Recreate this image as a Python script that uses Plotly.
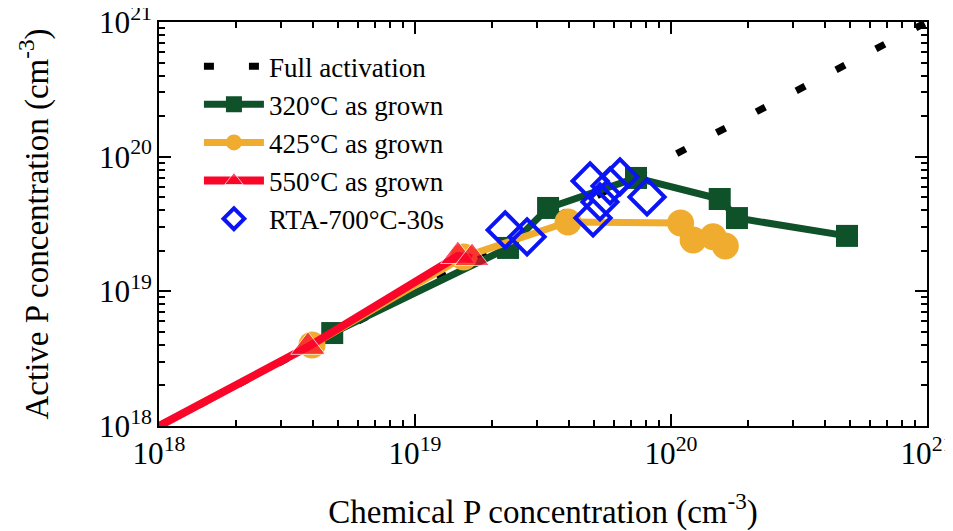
import plotly.graph_objects as go

# ---- data ----
full_x = [1e18, 1e21]
full_y = [1e18, 1e21]

g320_x = [4.75e18, 2.31e19, 3.31e19, 7.3e19, 1.55e20, 1.81e20, 4.87e20]
g320_y = [4.9e18, 2.1e19, 4.16e19, 6.95e19, 4.85e19, 3.5e19, 2.58e19]

g425_x = [3.96e18, 1.55e19, 3.96e19, 1.09e20, 1.22e20, 1.46e20, 1.63e20]
g425_y = [4.0e18, 1.8e19, 3.27e19, 3.22e19, 2.41e19, 2.54e19, 2.17e19]

g550_x = [1.0e18, 3.82e18, 1.47e19, 1.67e19]
g550_y = [1.0e18, 3.87e18, 1.83e19, 1.77e19]

rta_x = [2.25e19, 2.74e19, 4.83e19, 5.78e19, 6.32e19, 5.28e19, 4.96e19, 8.06e19]
rta_y = [2.86e19, 2.54e19, 6.6e19, 6.06e19, 7.07e19, 4.61e19, 3.51e19, 5.02e19]

GREEN = "#0f5129"
ORANGE = "#f0ac2e"
RED = "#fa0629"
BLUE = "#0a14f5"
FONT = "Liberation Serif"

fig = go.Figure()
fig.add_trace(go.Scatter(x=full_x, y=full_y, mode="lines", name="Full activation",
                         line=dict(color="black", width=7, dash="10px,35px")))
fig.add_trace(go.Scatter(x=g320_x, y=g320_y, mode="lines+markers", name="320°C as grown",
                         line=dict(color=GREEN, width=7),
                         marker=dict(symbol="square", size=22, color=GREEN)))
fig.add_trace(go.Scatter(x=g425_x, y=g425_y, mode="lines+markers", name="425°C as grown",
                         line=dict(color=ORANGE, width=7),
                         marker=dict(symbol="circle", size=27, color=ORANGE)))
fig.add_trace(go.Scatter(x=g550_x, y=g550_y, mode="lines+markers", name="550°C as grown",
                         line=dict(color=RED, width=8),
                         marker=dict(symbol="triangle-up", size=[0, 30, 30, 30], color=RED)))
fig.add_trace(go.Scatter(x=rta_x, y=rta_y, mode="markers", name="RTA-700°C-30s",
                         marker=dict(symbol="diamond-open", size=27, color=BLUE,
                                     line=dict(color=BLUE, width=4))))

axis_common = dict(
    type="log", dtick=1, exponentformat="power", showexponent="all",
    showline=True, linecolor="black", linewidth=2, mirror="allticks",
    ticks="inside", ticklen=12, tickwidth=2, tickcolor="black",
    showgrid=False, zeroline=False, automargin=False, ticklabeloverflow="allow",
    tickfont=dict(family=FONT, size=25, color="black"),
    minor=dict(ticks="inside", ticklen=6, tickwidth=2, tickcolor="black", dtick="D1", showgrid=False),
)

fig.update_layout(
    width=945, height=523,
    margin=dict(l=151, r=26, t=14, b=105),
    paper_bgcolor="white", plot_bgcolor="white",
    font=dict(family=FONT, color="black"),
    xaxis=dict(range=[17.99999, 21.00001], **axis_common,
               title=dict(text="Chemical P concentration (cm<sup>-3</sup>)",
                          font=dict(family=FONT, size=33), standoff=34)),
    yaxis=dict(range=[17.99999, 21.00001], **axis_common,
               title=dict(text="Active P concentration (cm<sup>-3</sup>)",
                          font=dict(family=FONT, size=33), standoff=40)),
    legend=dict(x=0.052, y=0.95, xanchor="left", yanchor="top",
                bgcolor="rgba(0,0,0,0)", font=dict(family=FONT, size=27),
                tracegroupgap=0, itemwidth=60),
    showlegend=True,
)

fig.write_html("out.html")
